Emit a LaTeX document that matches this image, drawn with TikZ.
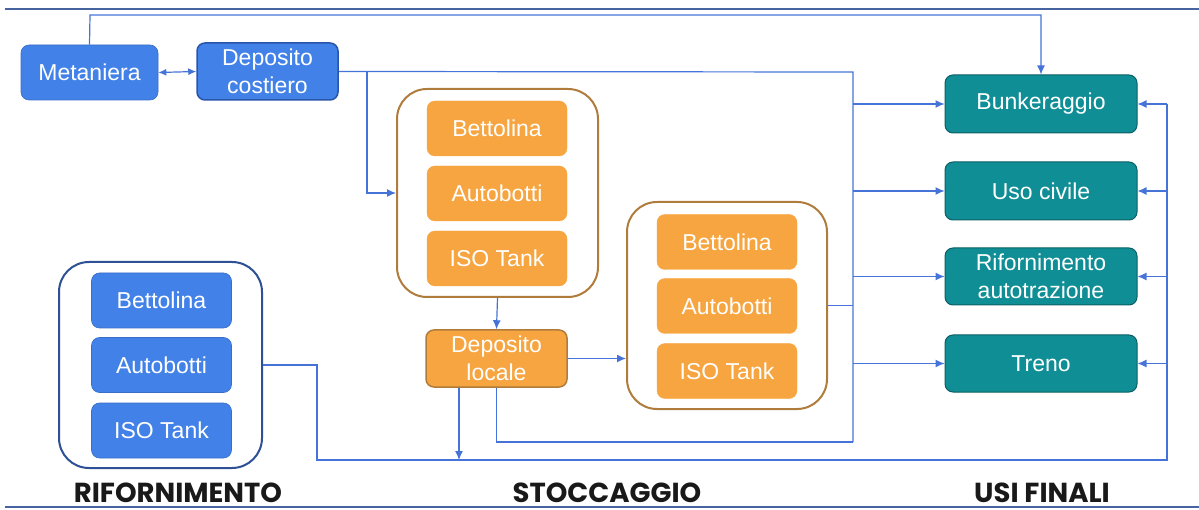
\documentclass[tikz,border=0pt]{standalone}
\usepackage{fontspec}
\setmainfont{Liberation Sans}
\newfontfamily\headfont{Poppins}
\usetikzlibrary{arrows.meta}
\definecolor{bluefill}{RGB}{66,130,232}
\definecolor{blueborder}{RGB}{40,85,170}
\definecolor{orfill}{RGB}{247,165,64}
\definecolor{orborder}{RGB}{176,124,60}
\definecolor{tealfill}{RGB}{16,142,150}
\definecolor{tealborder}{RGB}{10,95,100}
\definecolor{conn}{RGB}{70,115,215}
\definecolor{rcborder}{RGB}{45,80,150}
\definecolor{rule}{RGB}{70,100,160}
\tikzset{
  box/.style={rounded corners=8pt, text=white, align=center, font=\fontsize{23}{28}\selectfont, inner sep=0pt},
  bluebox/.style={box, fill=bluefill, draw=bluefill!85!black, line width=0.6pt, minimum width=140pt, minimum height=55pt},
  orbox/.style={box, fill=orfill, draw=orfill, minimum width=140pt, minimum height=55pt},
  tealbox/.style={box, fill=tealfill, draw=tealborder, line width=1pt, minimum width=192pt, minimum height=57pt},
  cont/.style={rounded corners=30pt, draw=orborder, line width=2pt, fill=white},
  wire/.style={draw=conn, line width=1.2pt},
  arr/.style={wire, -{Latex[length=9pt,width=8pt]}},
  head/.style={font=\headfont\bfseries\fontsize{27.5}{32}\selectfont, text=black!90, inner sep=0pt},
  rulestyle/.style={draw=rule, line width=1.2pt}
}
\begin{document}
\begin{tikzpicture}[x=1pt,y=-1pt]
\useasboundingbox (0,0) rectangle (1199,510);
% rules
\draw[rulestyle] (5,9) -- (1199,9);
\draw[rulestyle] (5,507) -- (1199,507);
% containers
\node[cont, minimum width=201pt, minimum height=208pt] (c1) at (497.5,193) {};
\node[cont, minimum width=200pt, minimum height=207pt] (c2) at (727,305.5) {};
\node[cont, draw=rcborder, minimum width=203pt, minimum height=206pt] (rc) at (160.5,365) {};
% supply boxes
\node[bluebox, minimum width=137pt] (met) at (89.5,72.5) {Metaniera};
\node[bluebox, draw=blueborder, line width=1.5pt, minimum width=141pt, minimum height=57pt] (dep) at (267.5,71.5) {Deposito\\costiero};
% storage
\node[orbox] (c1b) at (497,128.5) {Bettolina};
\node[orbox] (c1a) at (497,193.5) {Autobotti};
\node[orbox] (c1i) at (497,258.5) {ISO Tank};
\node[orbox, draw=orborder, line width=1.5pt, minimum width=141pt, minimum height=57pt] (dl) at (496.5,358.5) {Deposito\\locale};
\node[orbox] (c2b) at (727,242) {Bettolina};
\node[orbox] (c2a) at (727,306) {Autobotti};
\node[orbox] (c2i) at (727,371) {ISO Tank};
% refuelling
\node[bluebox] (rb) at (161.5,300.5) {Bettolina};
\node[bluebox] (ra) at (161.5,365) {Autobotti};
\node[bluebox] (ri) at (161.5,430.5) {ISO Tank};
% end uses
\node[tealbox, minimum height=58pt] (bunk) at (1041,104) {Bunkeraggio};
\node[tealbox, minimum height=58pt] (uso) at (1041,191) {Uso civile};
\node[tealbox] (rif) at (1041,276.5) {Rifornimento\\autotrazione};
\node[tealbox] (treno) at (1041,363.5) {Treno};
% headings
\node[head] (h1) at (178,492.5) {RIFORNIMENTO};
\node[head] (h2) at (607,492.5) {STOCCAGGIO};
\node[head] (h3) at (1042,492.5) {USI FINALI};
% coordinates
\coordinate (t1) at (90,15);
\coordinate (t2) at (1041,15);
\coordinate (lvtop) at (853,72);
\coordinate (lvbot) at (853,442);
\coordinate (br) at (367,72);
\coordinate (rvtop) at (1167,104);
\coordinate (rvbot) at (1167,460);
\coordinate (rcx) at (317,365);
\coordinate (rcy) at (317,460);
\coordinate (bd) at (459,460);
% connectors
\draw[arr] (met.north) -- (t1) -- (t2) -- (bunk.north);
\draw[wire, {Latex[length=8pt,width=7pt]}-{Latex[length=8pt,width=7pt]}] (met.east) -- (dep.west);
\draw[wire] (dep.east) -- (lvtop) -- (lvbot);
\draw[arr] (br) |- (c1.west);
\draw[arr] (c1.south) -- (dl.north);
\draw[arr] (dl.east) -- (dl.east -| c2.west);
\draw[wire] (c2.east) -- (c2.east -| lvtop);
\draw[wire] (dl.south) |- (lvbot);
\draw[arr] (bd |- dl.south) -- (bd);
\draw[wire] (rc.east) -- (rcx) -- (rcy) -- (rvbot) -- (rvtop);
\foreach \n in {bunk,uso,rif,treno}{
  \draw[arr] (\n.west -| lvtop) -- (\n.west);
  \draw[arr] (\n.east -| rvtop) -- (\n.east);
}
\end{tikzpicture}
\end{document}
